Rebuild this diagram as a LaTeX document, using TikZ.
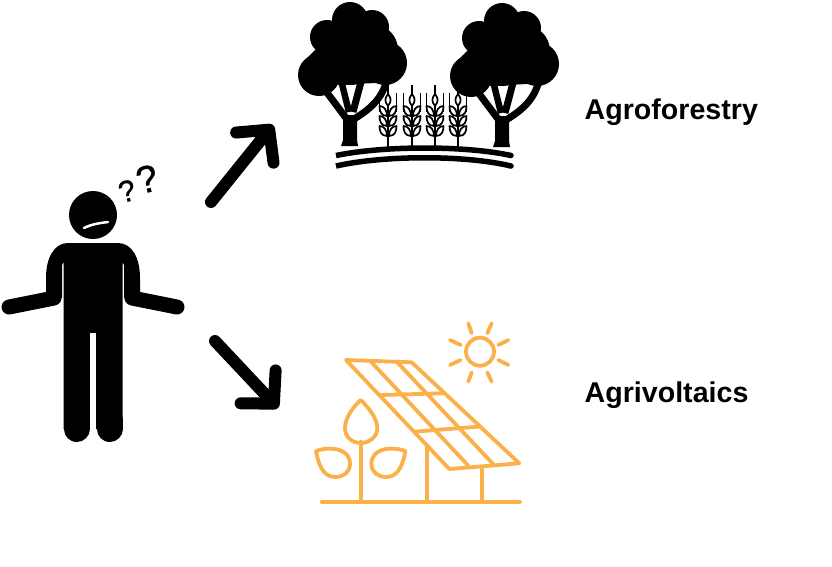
\documentclass[tikz,border=0pt]{standalone}
\usepackage{fontspec}
\setmainfont{Liberation Sans}
\newfontfamily\queryfont[FakeBold=1]{Liberation Sans}
\usetikzlibrary{arrows.meta}
\definecolor{solarorange}{HTML}{FBB04A}
\tikzset{
  bigarrow/.style={line width=12pt, line cap=round, -{Straight Barb[length=23pt,width=48pt,round]}},
  label/.style={anchor=base west, inner sep=0pt, font=\fontsize{28.6}{30}\selectfont\bfseries},
  query/.style={inner sep=0pt, rotate=14},
  solar/.style={draw=solarorange, line width=3.8pt, line cap=round, line join=round},
  grain/.style={draw=black, fill=white, line width=1.7pt, line join=round},
  pics/crown/.style={code={
    \fill[black] (350,20) circle (18) (327,37) circle (17) (372,27) circle (17)
      (319,75) circle (21) (385,63) circle (22) (350,52) circle (33) (372,50) circle (26);
    \fill[black] (320,45) -- (385,27) -- (400,50) -- (395,82) -- (335,85) -- (325,92) -- (305,60) -- cycle;
    % trunk and branches
    \fill[black] (341,146) -- (358,146) -- (357,140) -- (357,115) -- (343,115) -- (343,140) -- cycle;
    \draw[black, line width=7pt] (349,122) -- (325,90);
    \draw[black, line width=6.5pt] (349,112) -- (341,80);
    \draw[black, line width=7pt] (353,112) -- (362,78);
    \draw[black, line width=7pt] (354,119) .. controls (372,108) and (382,98) .. (387,80);
  }},
  pics/wheat/.style={code={
    \draw[black, line width=1.8pt] (0,147) -- (0,105) (0,95) -- (0,85);
    \draw[black, line width=1.8pt] (-8.5,93) -- (-8.5,112) (8.5,93) -- (8.5,112);
    \draw[grain] (0,94) .. controls (3,98) and (4,101) .. (0,106) .. controls (-4,101) and (-3,98) .. cycle;
    \foreach \gy in {106,116,126} {
      \draw[grain] (-1,\gy+10) .. controls (-7,\gy+10) and (-8.5,\gy+5) .. (-8.5,\gy) .. controls (-4,\gy) and (-1,\gy+4) .. cycle;
      \draw[grain] (1,\gy+10) .. controls (7,\gy+10) and (8.5,\gy+5) .. (8.5,\gy) .. controls (4,\gy) and (1,\gy+4) .. cycle;
    }
  }},
}

\begin{document}
\begin{tikzpicture}[x=1pt,y=-1pt]
\useasboundingbox (0,0) rectangle (832,566);

% Person
\fill[black] (93,215) circle (24);
\draw[white, line width=2.5pt, line cap=round] (84,228) .. controls (92,224) and (100,223) .. (108,222);
\fill[black] (68,243) -- (118,243) .. controls (132,243) and (140,258) .. (140,278) -- (140,298)
  -- (124,298) -- (124,265) -- (122.5,262) -- (122.5,429) -- (63.5,429) -- (63.5,262) -- (62,265)
  -- (62,298) -- (46,298) -- (46,278) .. controls (46,258) and (54,243) .. (68,243) -- cycle;
\fill[white] (90,333) rectangle (96,445);
\draw[black, line width=26pt, line cap=round] (76.5,420) -- (76.5,429);
\draw[black, line width=26pt, line cap=round] (109.5,420) -- (109.5,429);
\draw[black, line width=15pt, line cap=round] (54,298) -- (9,307);
\draw[black, line width=15pt, line cap=round] (132,298) -- (177,307);
\node[query, font=\queryfont\fontsize{30}{30}\selectfont] (qsmall) at (127,191) {?};
\node[query, font=\queryfont\fontsize{38}{38}\selectfont] (qbig) at (147,179) {?};

% Arrows
\coordinate (upstart) at (211,202);
\coordinate (uptip) at (273,125);
\coordinate (downstart) at (215,341);
\coordinate (downtip) at (278,408);
\draw[bigarrow] (upstart) -- (uptip);
\draw[bigarrow] (downstart) -- (downtip);

% Trees
\pic at (0,0) {crown};
\pic at (152,1) {crown};

% Wheat
\foreach \wx in {388,412,435,458} {
  \pic at (\wx,0) {wheat};
}

% Ground
\draw[black, line width=5.5pt] (336,155.5) .. controls (385,145.5) and (465,145.5) .. (511,155.5);
\draw[black, line width=5.5pt] (336,166) .. controls (385,155) and (465,155) .. (511,166);
\fill[black] (511,155.5) circle (2.75) (511,166) circle (2.75);

% Sun
\draw[solar] (480,351.7) circle (14);
\draw[solar] (468.3,323.3) -- (471.7,333.3);
\draw[solar] (491.7,323.3) -- (487.3,333.3);
\draw[solar] (450,340) -- (460.7,345);
\draw[solar] (508.3,340) -- (498.3,345);
\draw[solar] (450,365) -- (460.7,360);
\draw[solar] (508.3,365) -- (498.3,360);
\draw[solar] (468.3,381.7) -- (471.7,372.3);
\draw[solar] (491.7,381.7) -- (487.3,372.3);

% Solar panel
\draw[solar] (346,360) -- (411.7,362.3) -- (519.3,463.3) -- (449.3,469) -- cycle;
\draw[solar] (371,361.7) -- (468.3,465.7);
\draw[solar] (396.7,361.7) -- (494,465);
\draw[solar] (380,395) -- (444,393.3);
\draw[solar] (414,431.7) -- (478.3,426.7);
\draw[solar] (426.7,445) -- (426.7,501.7);
\draw[solar] (481.7,466.7) -- (481.7,501.7);
\draw[solar] (321.7,501.7) -- (520,501.7);

% Plant
\draw[solar] (360.7,441.7) -- (360.7,501.7);
\draw[solar] (360.7,400) .. controls (353,407) and (345,418) .. (345,428) .. controls (345,437) and (352,443) .. (360.7,443) .. controls (369,443) and (377.3,437) .. (377.3,428) .. controls (377.3,418) and (368,407) .. cycle;
\draw[solar] (316,451) .. controls (330,446) and (351,448) .. (350,465) .. controls (349,473) and (343,477) .. (335,477) .. controls (322,477) and (318,462) .. cycle;
\draw[solar] (405.4,451) .. controls (391.4,446) and (370.4,448) .. (371.4,465) .. controls (372.4,473) and (378.4,477) .. (386.4,477) .. controls (399.4,477) and (403.4,462) .. cycle;

% Labels
\node[label] (agroforestry) at (584.5,119.5) {Agroforestry};
\node[label] (agrivoltaics) at (584.5,402) {Agrivoltaics};
\end{tikzpicture}
\end{document}
